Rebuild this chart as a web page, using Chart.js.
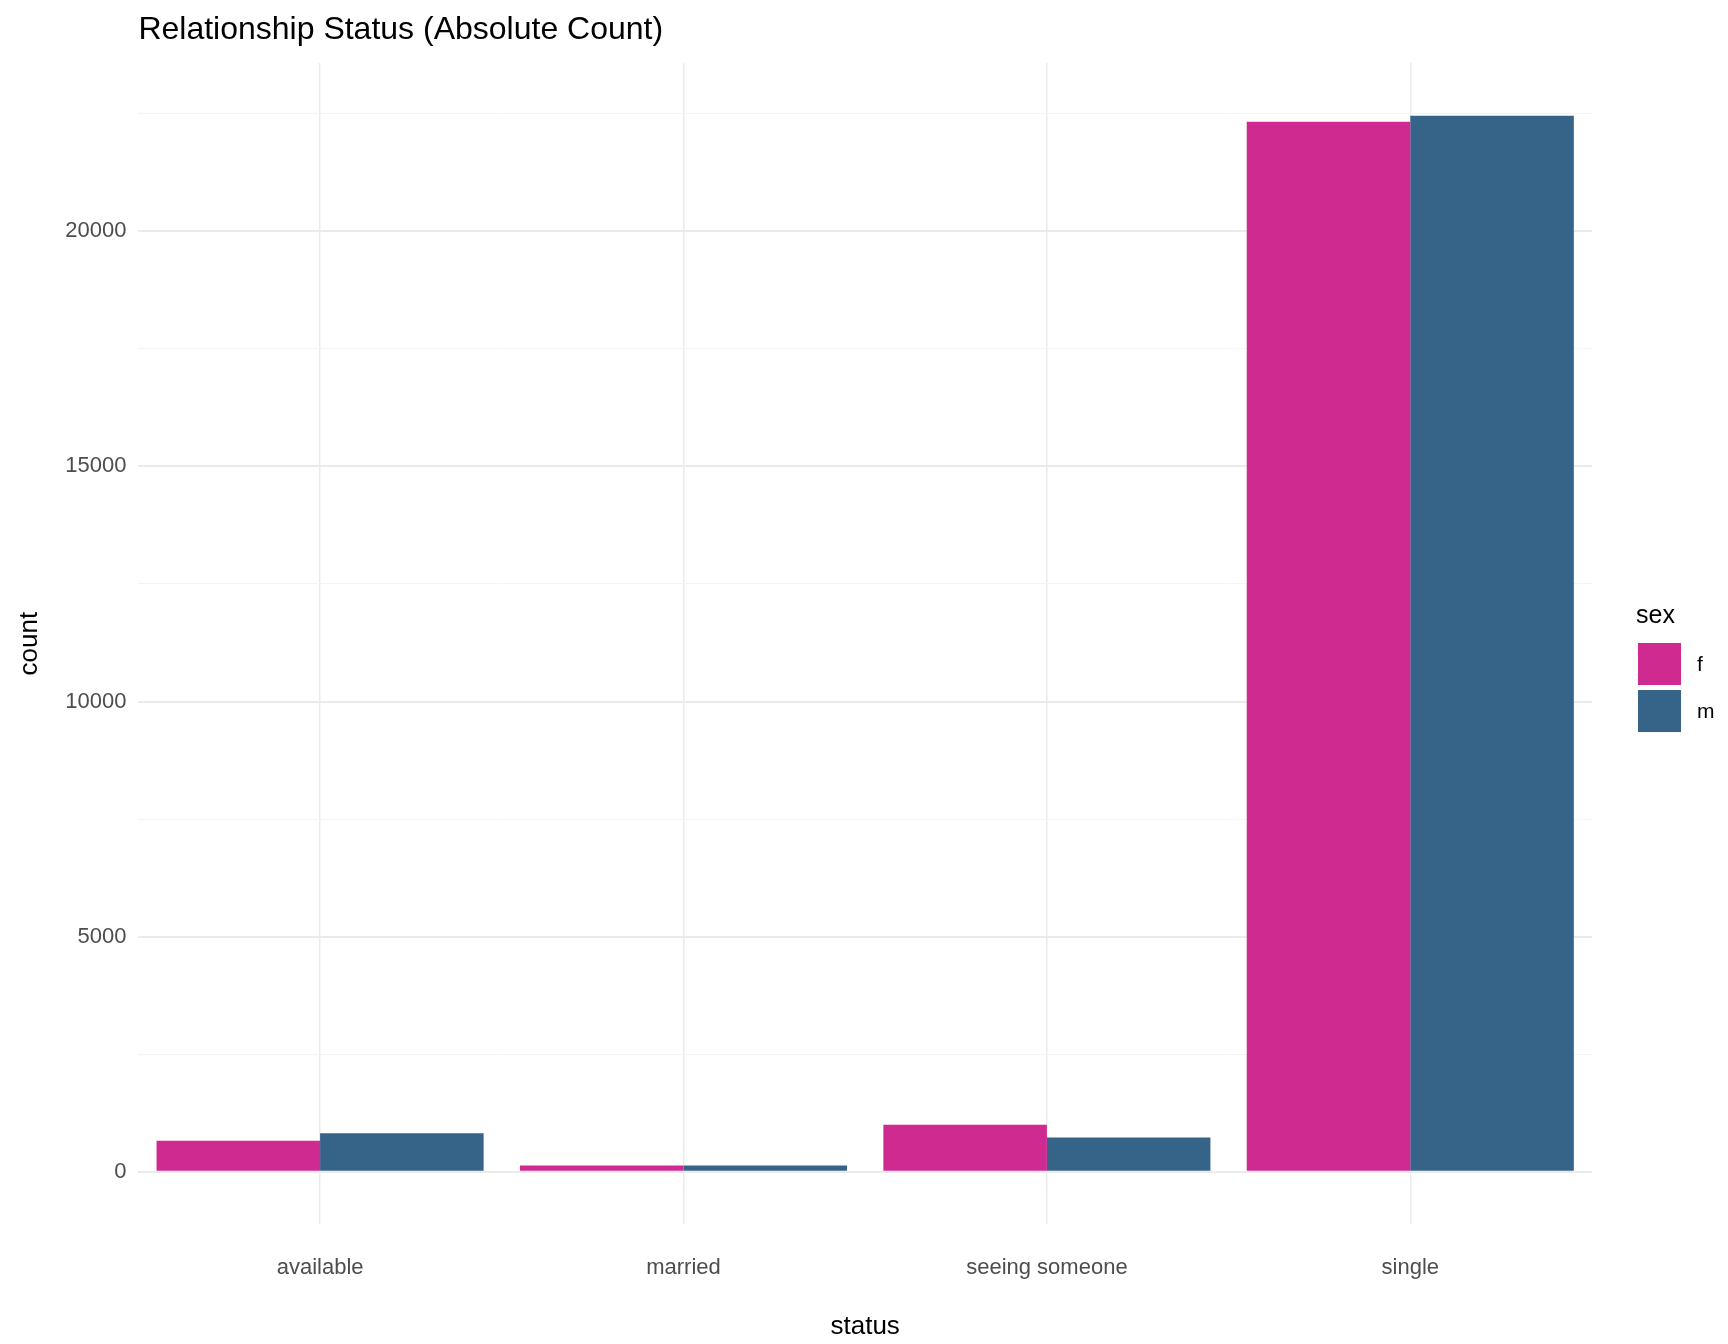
<!DOCTYPE html>
<html><head><meta charset="utf-8">
<script src="https://cdn.jsdelivr.net/npm/chart.js@4"></script>
<style>html,body{margin:0;background:#fff}#w{width:1728px;height:1344px}</style>
</head><body><div id="w"><canvas id="c"></canvas></div>
<script>
const categories = ["available","married","seeing someone","single"];
const female = [660, 135, 1000, 22330];
const male = [820, 135, 730, 22460];
const seriesNames = ["f","m"];
const F = "'Liberation Sans', Arial, sans-serif";
Chart.defaults.font.family = F;
const deco = {
  id: 'deco',
  afterDraw(chart) {
    const ctx = chart.ctx, a = chart.chartArea;
    ctx.save();
    ctx.fillStyle = '#000'; ctx.textBaseline = 'middle'; ctx.textAlign = 'left';
    ctx.font = '32px ' + F;
    ctx.fillText('Relationship Status (Absolute Count)', a.left, 30);
    ctx.font = '25px ' + F;
    ctx.fillText('sex', 1636, 616);
    ctx.font = '21px ' + F;
    chart.data.datasets.forEach((ds, i) => {
      const y = 643 + i * 47;
      ctx.fillStyle = ds.backgroundColor;
      ctx.fillRect(1638, y, 43, 42);
      ctx.fillStyle = '#000';
      ctx.fillText(ds.label, 1697, y + 22);
    });
    ctx.restore();
  }
};
new Chart(document.getElementById('c'), {
  type: 'bar',
  data: { labels: categories, datasets: [
    {label: seriesNames[0], data: female, backgroundColor: '#CE2A90', barPercentage: 1, categoryPercentage: 0.9},
    {label: seriesNames[1], data: male, backgroundColor: '#366489', barPercentage: 1, categoryPercentage: 0.9}
  ]},
  plugins: [deco],
  options: {
    responsive: true, maintainAspectRatio: false, animation: false,
    layout: {padding: {left: 10, right: 136, top: 63, bottom: 2}},
    plugins: { title: {display: false}, legend: {display: false}, tooltip: {enabled: false} },
    scales: {
      x: {offset: true, grid: {offset: false, color: '#ebebeb', lineWidth: 1.5, drawTicks: false}, border: {display: false},
        ticks: {color: '#4d4d4d', font: {size: 22}, padding: 30},
        title: {display: true, text: 'status', color: '#000', font: {size: 26}, padding: {top: 0, bottom: 0}}},
      y: {min: -1120, max: 23580, grid: {color: ctx => (ctx.tick && ctx.tick.value % 5000 === 0) ? '#ebebeb' : '#f4f4f4', lineWidth: ctx => (ctx.tick && ctx.tick.value % 5000 === 0) ? 2 : 1, drawTicks: false}, border: {display: false},
        afterBuildTicks: ax => { const t = []; for (let v = 0; v <= 22500; v += 2500) t.push({value: v}); ax.ticks = t; },
        ticks: {color: '#4d4d4d', font: {size: 22}, padding: 12, callback: v => v % 5000 === 0 ? String(v) : ''},
        title: {display: true, text: 'count', color: '#000', font: {size: 26}, padding: {bottom: 8}}}
    }
  }
});
</script></body></html>
